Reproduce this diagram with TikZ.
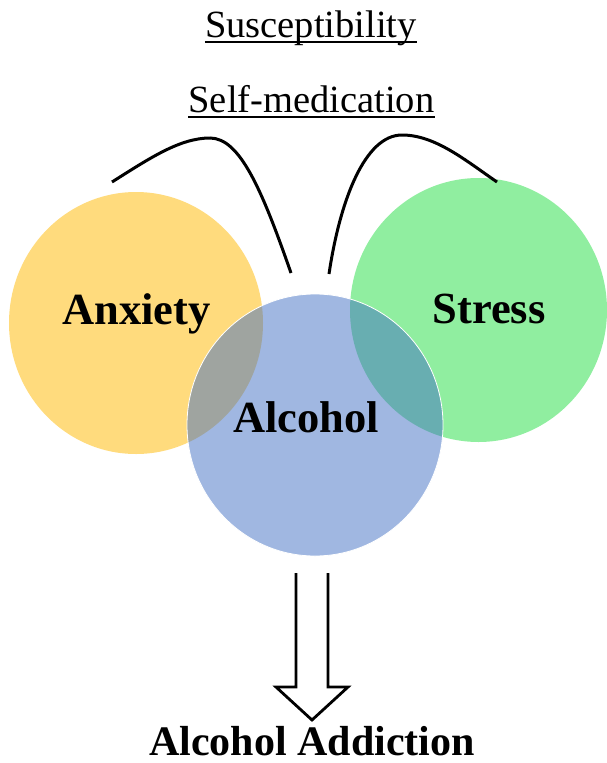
\documentclass[tikz,border=0pt]{standalone}
\usepackage{fontspec}
\setmainfont{Liberation Serif}
\usetikzlibrary{shapes.geometric}
\definecolor{anxcol}{HTML}{FFDB7D}
\definecolor{strcol}{HTML}{90EEA0}
\definecolor{alccol}{HTML}{416FC3}
\tikzset{
  blob/.style={ellipse, inner sep=0pt},
  toplabel/.style={inner sep=0pt, anchor=base, font=\fontsize{38.5}{40}\selectfont},
  biglabel/.style={inner sep=0pt, anchor=base, font=\fontsize{44.5}{46}\selectfont\bfseries},
  uline/.style={line width=1.8pt},
  curve/.style={line width=3pt, line cap=butt},
  hollowarrow/.style={line width=2.8pt, line join=miter}
}
\begin{document}
\begin{tikzpicture}[x=1pt,y=-1pt]
\useasboundingbox (0,0) rectangle (607,763);
% circles
\node[blob, fill=anxcol, minimum width=254pt, minimum height=262pt] (anx) at (136,323) {};
\node[blob, fill=strcol, minimum width=257pt, minimum height=264pt] (str) at (478.5,310) {};
\node[blob, fill=alccol, fill opacity=0.5, draw=white, line width=0.8pt, minimum width=256pt, minimum height=262pt] (alc) at (315,425) {};
% labels
\node[toplabel] (sus) at (311,37) {Susceptibility};
\node[toplabel] (self) at (311.5,112) {Self-medication};
\draw[uline] ([yshift=-5pt]sus.base west) -- ([yshift=-5pt]sus.base east);
\draw[uline] ([yshift=-5pt]self.base west) -- ([yshift=-5pt]self.base east);
\node[biglabel] (anxt) at (136.5,324) {Anxiety};
\node[biglabel] (strt) at (489,323) {Stress};
\node[biglabel] (alct) at (306,432) {Alcohol};
\node[inner sep=0pt, anchor=base, font=\fontsize{42}{44}\selectfont\bfseries] (add) at (312,755) {Alcohol Addiction};
% curves
\coordinate (l1) at (112,182);
\coordinate (l2) at (210,138);
\coordinate (l3) at (291,273);
\coordinate (r1) at (329,274);
\coordinate (r2) at (402,135);
\coordinate (r3) at (497,182);
\draw[curve] (l1) .. controls (150,158) and (180,138) .. (l2)
  .. controls (240,138) and (262,190) .. (l3);
\draw[curve] (r1) .. controls (340,200) and (365,135) .. (r2)
  .. controls (435,135) and (465,160) .. (r3);
% hollow arrow
\coordinate (a1) at (296,573);
\coordinate (a7) at (328,573);
\coordinate (tip) at (312,720);
\draw[hollowarrow] (a1) -- (296,687) -- (276,687) -- (tip) -- (348,687) -- (328,687) -- (a7);
\end{tikzpicture}
\end{document}
